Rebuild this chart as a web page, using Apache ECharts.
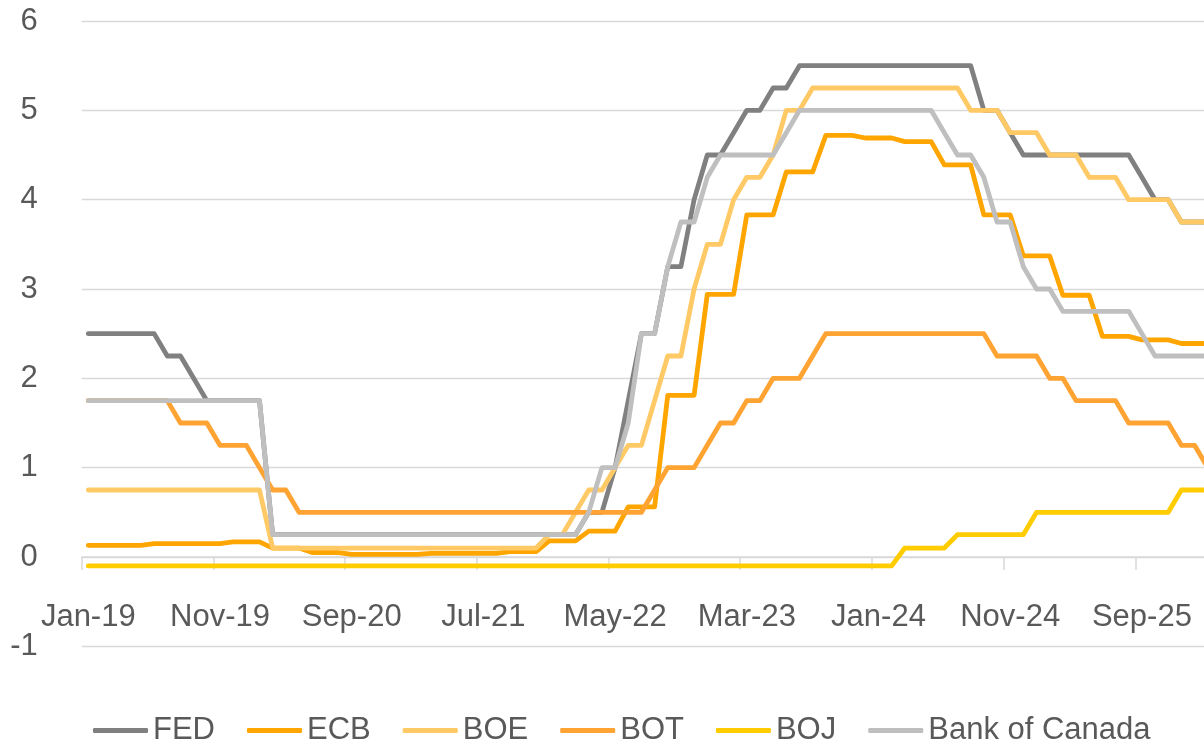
<!DOCTYPE html>
<html>
<head>
<meta charset="utf-8">
<script src="https://cdn.jsdelivr.net/npm/echarts@6/dist/echarts.min.js"></script>
<style>
  html, body { margin: 0; padding: 0; background: #fff; }
  #chart { width: 1204px; height: 739px; }
</style>
</head>
<body>
<div id="chart"></div>
<script>
// monthly categories Jan-19 .. Feb-26
const months = [
  'Jan-19','Feb-19','Mar-19','Apr-19','May-19','Jun-19','Jul-19','Aug-19','Sep-19','Oct-19','Nov-19','Dec-19',
  'Jan-20','Feb-20','Mar-20','Apr-20','May-20','Jun-20','Jul-20','Aug-20','Sep-20','Oct-20','Nov-20','Dec-20',
  'Jan-21','Feb-21','Mar-21','Apr-21','May-21','Jun-21','Jul-21','Aug-21','Sep-21','Oct-21','Nov-21','Dec-21',
  'Jan-22','Feb-22','Mar-22','Apr-22','May-22','Jun-22','Jul-22','Aug-22','Sep-22','Oct-22','Nov-22','Dec-22',
  'Jan-23','Feb-23','Mar-23','Apr-23','May-23','Jun-23','Jul-23','Aug-23','Sep-23','Oct-23','Nov-23','Dec-23',
  'Jan-24','Feb-24','Mar-24','Apr-24','May-24','Jun-24','Jul-24','Aug-24','Sep-24','Oct-24','Nov-24','Dec-24',
  'Jan-25','Feb-25','Mar-25','Apr-25','May-25','Jun-25','Jul-25','Aug-25','Sep-25','Oct-25','Nov-25','Dec-25',
  'Jan-26','Feb-26'
];

const fed = [
  2.5,2.5,2.5,2.5,2.5,2.5,2.25,2.25,2.0,1.75,1.75,1.75,
  1.75,1.75,0.25,0.25,0.25,0.25,0.25,0.25,0.25,0.25,0.25,0.25,
  0.25,0.25,0.25,0.25,0.25,0.25,0.25,0.25,0.25,0.25,0.25,0.25,
  0.25,0.25,0.5,0.5,1.0,1.75,2.5,2.5,3.25,3.25,4.0,4.5,
  4.5,4.75,5.0,5.0,5.25,5.25,5.5,5.5,5.5,5.5,5.5,5.5,
  5.5,5.5,5.5,5.5,5.5,5.5,5.5,5.5,5.0,5.0,4.75,4.5,
  4.5,4.5,4.5,4.5,4.5,4.5,4.5,4.5,4.25,4.0,4.0,3.75,
  3.75,3.75
];

const ecb = [
  0.13,0.13,0.13,0.13,0.13,0.15,0.15,0.15,0.15,0.15,0.15,0.17,
  0.17,0.17,0.10,0.10,0.10,0.05,0.05,0.05,0.03,0.03,0.03,0.03,
  0.03,0.03,0.04,0.04,0.04,0.04,0.04,0.04,0.06,0.06,0.06,0.18,
  0.18,0.18,0.29,0.29,0.29,0.56,0.56,0.56,1.81,1.81,1.81,2.94,
  2.94,2.94,3.83,3.83,3.83,4.31,4.31,4.31,4.72,4.72,4.72,4.69,
  4.69,4.69,4.65,4.65,4.65,4.39,4.39,4.39,3.83,3.83,3.83,3.37,
  3.37,3.37,2.93,2.93,2.93,2.47,2.47,2.47,2.43,2.43,2.43,2.39,
  2.39,2.39
];

const boe = [
  0.75,0.75,0.75,0.75,0.75,0.75,0.75,0.75,0.75,0.75,0.75,0.75,
  0.75,0.75,0.1,0.1,0.1,0.1,0.1,0.1,0.1,0.1,0.1,0.1,
  0.1,0.1,0.1,0.1,0.1,0.1,0.1,0.1,0.1,0.1,0.1,0.25,
  0.25,0.5,0.75,0.75,1.0,1.25,1.25,1.75,2.25,2.25,3.0,3.5,
  3.5,4.0,4.25,4.25,4.5,5.0,5.0,5.25,5.25,5.25,5.25,5.25,
  5.25,5.25,5.25,5.25,5.25,5.25,5.25,5.0,5.0,5.0,4.75,4.75,
  4.75,4.5,4.5,4.5,4.25,4.25,4.25,4.0,4.0,4.0,4.0,3.75,
  3.75,3.75
];

const bot = [
  1.75,1.75,1.75,1.75,1.75,1.75,1.75,1.5,1.5,1.5,1.25,1.25,
  1.25,1.0,0.75,0.75,0.5,0.5,0.5,0.5,0.5,0.5,0.5,0.5,
  0.5,0.5,0.5,0.5,0.5,0.5,0.5,0.5,0.5,0.5,0.5,0.5,
  0.5,0.5,0.5,0.5,0.5,0.5,0.5,0.75,1.0,1.0,1.0,1.25,
  1.5,1.5,1.75,1.75,2.0,2.0,2.0,2.25,2.5,2.5,2.5,2.5,
  2.5,2.5,2.5,2.5,2.5,2.5,2.5,2.5,2.5,2.25,2.25,2.25,
  2.25,2.0,2.0,1.75,1.75,1.75,1.75,1.5,1.5,1.5,1.5,1.25,
  1.25,1.0
];

const boj = [
  -0.1,-0.1,-0.1,-0.1,-0.1,-0.1,-0.1,-0.1,-0.1,-0.1,-0.1,-0.1,
  -0.1,-0.1,-0.1,-0.1,-0.1,-0.1,-0.1,-0.1,-0.1,-0.1,-0.1,-0.1,
  -0.1,-0.1,-0.1,-0.1,-0.1,-0.1,-0.1,-0.1,-0.1,-0.1,-0.1,-0.1,
  -0.1,-0.1,-0.1,-0.1,-0.1,-0.1,-0.1,-0.1,-0.1,-0.1,-0.1,-0.1,
  -0.1,-0.1,-0.1,-0.1,-0.1,-0.1,-0.1,-0.1,-0.1,-0.1,-0.1,-0.1,
  -0.1,-0.1,0.1,0.1,0.1,0.1,0.25,0.25,0.25,0.25,0.25,0.25,
  0.5,0.5,0.5,0.5,0.5,0.5,0.5,0.5,0.5,0.5,0.5,0.75,
  0.75,0.75
];

const boc = [
  1.75,1.75,1.75,1.75,1.75,1.75,1.75,1.75,1.75,1.75,1.75,1.75,
  1.75,1.75,0.25,0.25,0.25,0.25,0.25,0.25,0.25,0.25,0.25,0.25,
  0.25,0.25,0.25,0.25,0.25,0.25,0.25,0.25,0.25,0.25,0.25,0.25,
  0.25,0.25,0.5,1.0,1.0,1.5,2.5,2.5,3.25,3.75,3.75,4.25,
  4.5,4.5,4.5,4.5,4.5,4.75,5.0,5.0,5.0,5.0,5.0,5.0,
  5.0,5.0,5.0,5.0,5.0,4.75,4.5,4.5,4.25,3.75,3.75,3.25,
  3.0,3.0,2.75,2.75,2.75,2.75,2.75,2.75,2.5,2.25,2.25,2.25,
  2.25,2.25
];

const seriesNames = ['FED', 'ECB', 'BOE', 'BOT', 'BOJ', 'Bank of Canada'];
const seriesColors = ['#808080', '#ffa500', '#ffc966', '#ffa333', '#ffcc00', '#bfbfbf'];
const seriesData = [fed, ecb, boe, bot, boj, boc];

const yTicks = [-1, 0, 1, 2, 3, 4, 5, 6];

const font = 'Liberation Sans, Arial, sans-serif';
const textColor = '#595959';
const gridColor = '#d9d9d9';

// plot area: 6 at y=21, -1 at y=646.3, one month = 13.17px (right side runs off the page)
const unitY = 89.33;
const plotTop = 21;

const chart = echarts.init(document.getElementById('chart'), null, { renderer: 'canvas' });

chart.setOption({
  animation: false,
  backgroundColor: '#ffffff',
  grid: {
    left: 81.7,
    top: plotTop,
    width: 13.17 * months.length,
    height: unitY * 7,
    outerBoundsMode: 'none',
    containLabel: false
  },
  legend: {
    data: seriesNames,
    left: 88,
    top: 710,
    icon: 'roundRect',
    itemWidth: 55,
    itemHeight: 5,
    itemGap: 32,
    textStyle: { fontSize: 31, color: textColor, fontFamily: font }
  },
  xAxis: {
    type: 'category',
    data: months,
    boundaryGap: true,
    position: 'bottom',
    // axis line sits on the 0 gridline, one unit above the -1 bottom
    offset: -unitY,
    axisLine: { show: true, onZero: false, lineStyle: { color: gridColor, width: 1.5 } },
    axisTick: { show: true, interval: 9, length: 13, lineStyle: { color: gridColor, width: 1.5 } },
    axisLabel: { interval: 9, margin: 45, fontSize: 31, color: textColor, fontFamily: font },
    splitLine: { show: false }
  },
  yAxis: {
    type: 'value',
    min: yTicks[0],
    max: yTicks[yTicks.length - 1],
    interval: 1,
    axisLine: { show: false },
    axisTick: { show: false },
    axisLabel: { margin: 44, fontSize: 31, color: textColor, fontFamily: font },
    splitLine: { lineStyle: { color: gridColor, width: 1.3 } }
  },
  series: seriesNames.map((name, i) => ({
    name: name,
    type: 'line',
    data: seriesData[i],
    symbol: 'none',
    color: seriesColors[i],
    lineStyle: { width: 4.8, color: seriesColors[i], cap: 'round', join: 'round' },
    z: 2 + i
  }))
});
</script>
</body>
</html>
